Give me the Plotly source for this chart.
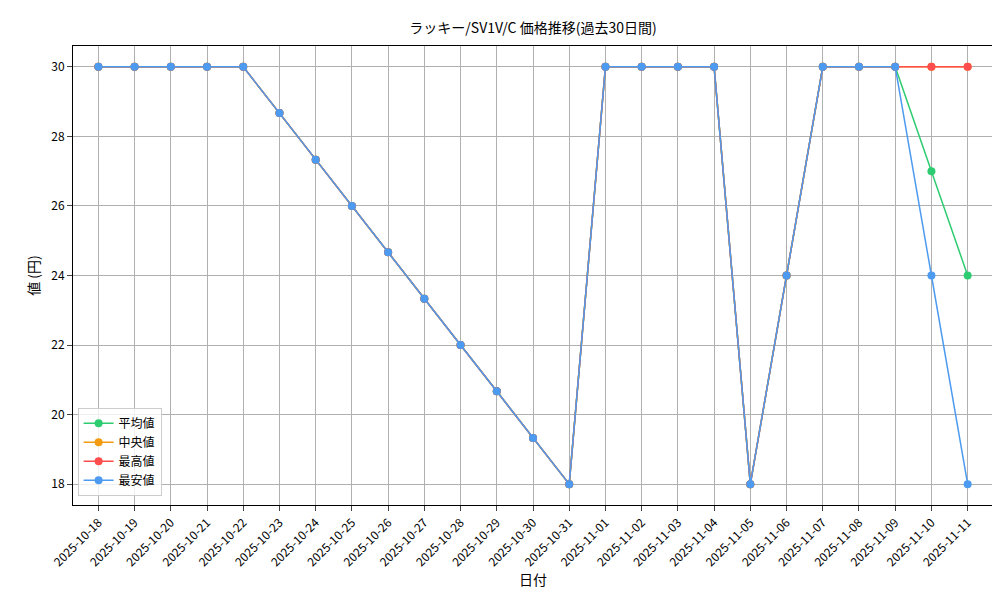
import plotly.graph_objects as go

dates = ["2025-10-18","2025-10-19","2025-10-20","2025-10-21","2025-10-22","2025-10-23","2025-10-24","2025-10-25","2025-10-26","2025-10-27","2025-10-28","2025-10-29","2025-10-30","2025-10-31","2025-11-01","2025-11-02","2025-11-03","2025-11-04","2025-11-05","2025-11-06","2025-11-07","2025-11-08","2025-11-09","2025-11-10","2025-11-11"]
base = [30,30,30,30,30,28.67,27.33,26,24.67,23.33,22,20.67,19.33,18,30,30,30,30,18,24,30,30,30]
avg_vals = base + [27,24]
median_vals = base + [30,30]
max_vals = base + [30,30]
min_vals = base + [24,18]

series = [("平均値", avg_vals, "#2ecc71"), ("中央値", median_vals, "#f39c12"),
          ("最高値", max_vals, "#ff4d4d"), ("最安値", min_vals, "#4d9bf0")]
xs = list(range(len(dates)))
fig = go.Figure()
for name, vals, col in series:
    fig.add_trace(go.Scatter(x=xs, y=vals, name=name, mode="lines+markers",
                             line=dict(color=col, width=1.5), marker=dict(color=col, size=8)))
font = "Noto Sans CJK JP"
fig.update_layout(
    width=1000, height=600, plot_bgcolor="white", paper_bgcolor="white",
    font=dict(family=font, size=12, color="black"),
    margin=dict(l=65, r=15, t=38, b=103, autoexpand=False),
    title=dict(text="ラッキー/SV1V/C 価格推移(過去30日間)", x=0.525, xanchor="center", y=0.975, font=dict(size=14)),
    legend=dict(x=0.005, y=0.02, xanchor="left", yanchor="bottom", bordercolor="#cccccc", borderwidth=1,
                bgcolor="rgba(255,255,255,0.8)", font=dict(size=12)),
    showlegend=True,
)
fig.update_xaxes(tickvals=xs, ticktext=dates, tickangle=-45, range=[-0.7, 24.7], showgrid=True,
                 gridcolor="#b0b0b0", showline=True, mirror=True, linecolor="black", ticks="outside",
                 title=dict(text="日付", standoff=5), zeroline=False, automargin=False)
fig.update_yaxes(range=[17.4, 30.6], tickvals=[18,20,22,24,26,28,30], showgrid=True, gridcolor="#b0b0b0",
                 showline=True, mirror=True, linecolor="black", ticks="outside",
                 title=dict(text="値 (円)", standoff=8), zeroline=False, automargin=False)
fig.write_html("out.html")
